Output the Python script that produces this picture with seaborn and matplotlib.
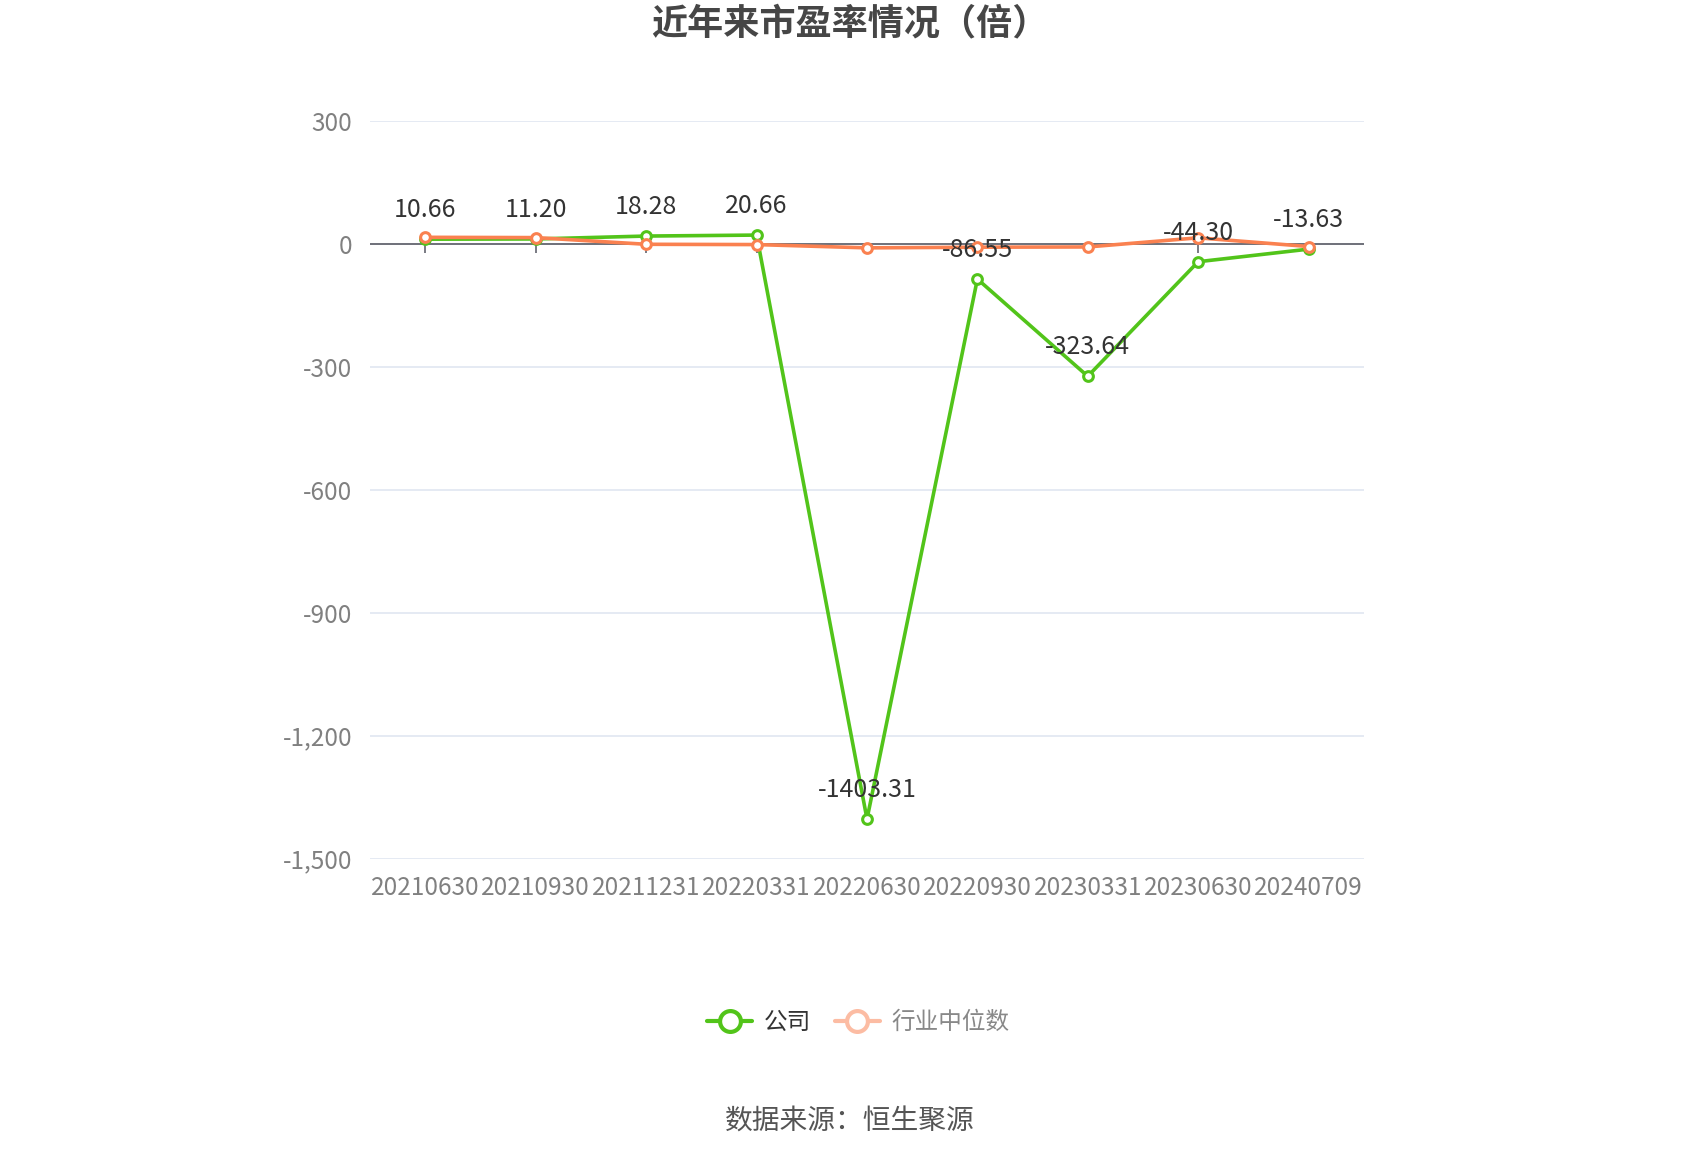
import numpy as np
import pandas as pd
import matplotlib
matplotlib.use("Agg")
import matplotlib.pyplot as plt
from matplotlib.lines import Line2D
from matplotlib.ticker import FuncFormatter
import seaborn as sns

# --------------------------------------------------------------------
# data
# --------------------------------------------------------------------
dates = ["20210630", "20210930", "20211231", "20220331", "20220630",
         "20220930", "20230331", "20230630", "20240709"]
company_pe = [10.66, 11.20, 18.28, 20.66, -1403.31, -86.55, -323.64, -44.30, -13.63]
industry_pe = [15.2, 14.5, -1.8, -2.5, -10.5, -8.9, -8.3, 14.0, -7.2]
y_ticks = [300, 0, -300, -600, -900, -1200, -1500]

GREEN = "#52c41a"
ORANGE = "#fa8150"
ORANGE_PALE = "#fcbca3"
GRID = "#e0e6f1"
AXIS = "#6e7079"
LABEL_GRAY = "#808080"

sns.set_style("white")
plt.rcParams["font.family"] = ["Noto Sans CJK SC", "DejaVu Sans"]
plt.rcParams["axes.unicode_minus"] = False

df = pd.DataFrame({"date": dates, "company": company_pe, "industry": industry_pe})
df["pos"] = np.arange(len(df))

fig = plt.figure(figsize=(17, 11.5), dpi=100)
ax = fig.add_axes([0.2178, 0.2533, 0.8022 - 0.2178, 0.8952 - 0.2533])

# grid lines
for yv in y_ticks:
    ax.axhline(yv, color=GRID, lw=1.2, zorder=0)
ax.axhline(0, color=AXIS, lw=1.4, zorder=1)
ax.vlines(df["pos"], 0, -22, color=AXIS, lw=1.3, zorder=1)

sns.lineplot(data=df, x="pos", y="company", ax=ax, color=GREEN, lw=2.6,
             marker="o", markersize=7, markerfacecolor="white",
             markeredgecolor=GREEN, markeredgewidth=2.2, zorder=3)
sns.lineplot(data=df, x="pos", y="industry", ax=ax, color=ORANGE, lw=2.6,
             marker="o", markersize=7, markerfacecolor="white",
             markeredgecolor=ORANGE, markeredgewidth=2.2, zorder=4)

# value labels for the company series
for x, v in zip(df["pos"], df["company"]):
    ax.annotate(f"{v:.2f}", (x, v), xytext=(0, 21), textcoords="offset points",
                ha="center", va="center", fontsize=18, color="#333333", zorder=6)

ax.set_xlim(-0.5, len(dates) - 0.5)
ax.set_ylim(-1500, 300)
ax.set_xticks(df["pos"])
ax.set_xticklabels(dates)
ax.set_yticks(y_ticks)
ax.yaxis.set_major_formatter(FuncFormatter(lambda v, p: f"{int(v):,}"))
ax.tick_params(axis="x", length=0, pad=12, labelsize=17.5, labelcolor=LABEL_GRAY)
ax.tick_params(axis="y", length=0, pad=13, labelsize=17.5, labelcolor=LABEL_GRAY)
ax.set_xlabel("")
ax.set_ylabel("")
for s in ax.spines.values():
    s.set_visible(False)

fig.suptitle("近年来市盈率情况（倍）", x=0.5, y=0.995, va="top",
             fontsize=26, fontweight="bold", color="#464646")

handles = [
    Line2D([], [], color=GREEN, lw=3, marker="o", markersize=15,
           markerfacecolor="white", markeredgecolor=GREEN, markeredgewidth=3),
    Line2D([], [], color=ORANGE_PALE, lw=3, marker="o", markersize=15,
           markerfacecolor="white", markeredgecolor=ORANGE_PALE, markeredgewidth=3),
]
leg = fig.legend(handles, ["公司", "行业中位数"], loc="center", bbox_to_anchor=(0.505, 0.111),
                 ncol=2, frameon=False, fontsize=17, handlelength=1.9,
                 handletextpad=0.5, columnspacing=1.0)
leg.get_texts()[0].set_color("#333333")
leg.get_texts()[1].set_color("#888888")

fig.text(0.5, 0.025, "数据来源：恒生聚源", ha="center", va="center",
         fontsize=20, color="#555555")

fig.savefig("out.png", dpi=100)
